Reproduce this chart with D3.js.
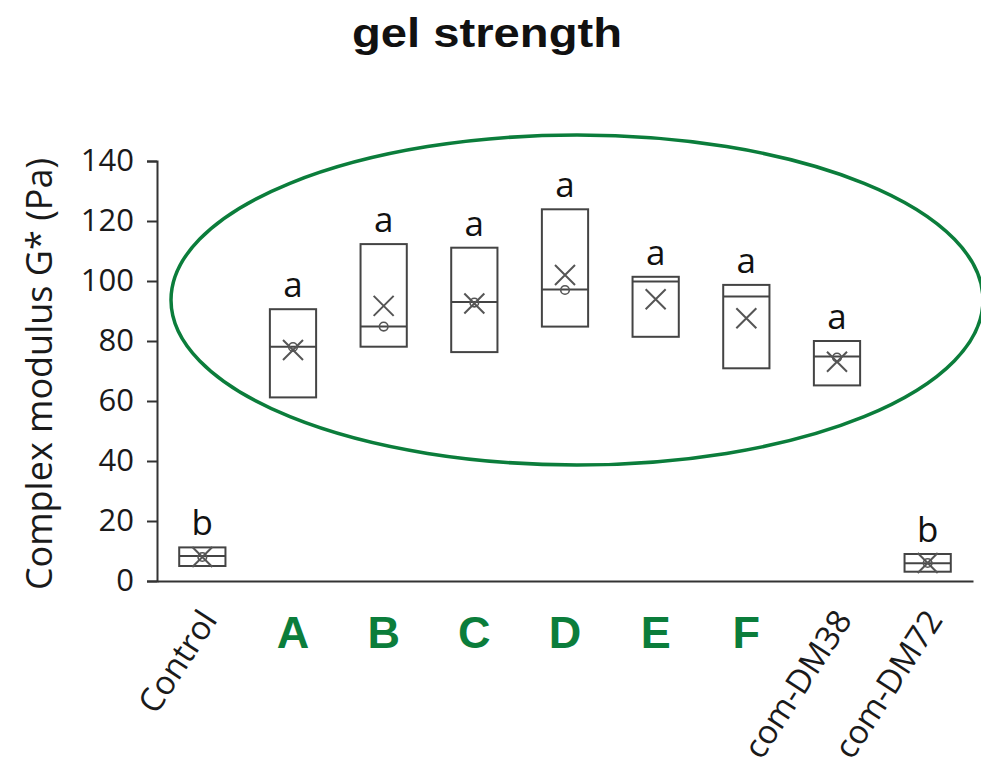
<!DOCTYPE html>
<html>
<head>
<meta charset="utf-8">
<script src="https://cdn.jsdelivr.net/npm/d3@7"></script>
<style>
  html, body { margin: 0; padding: 0; background: #fff; }
  svg { display: block; }
</style>
</head>
<body>
<svg id="chart" width="981" height="769"></svg>
<script>
// Sample groups along the x axis
const categories = ["Control", "A", "B", "C", "D", "E", "F", "com-DM38", "com-DM72"];
// Which groups get the bold green label
const highlighted = [false, true, true, true, true, true, true, false, false];
// Box statistics of the complex modulus G* (Pa)
const q1Values     = [5.0, 61.2, 78.1, 76.3, 84.8, 81.4, 70.9, 65.2, 3.1];
const medianValues = [8.3, 78.1, 84.8, 93.0, 97.2, 99.8, 94.8, 74.8, 5.9];
const q3Values     = [11.2, 90.6, 112.3, 111.1, 123.9, 101.4, 98.7, 80.0, 9.0];
const meanValues   = [8.0, 77.0, 91.7, 92.5, 102.0, 93.9, 87.6, 73.1, 6.0];
// Inner data point shown as a small circle (null = none drawn)
const pointValues  = [8.0, 78.0, 84.8, 92.8, 97.0, null, null, 74.5, 6.0];
// Significance letters
const groupLetters = ["b", "a", "a", "a", "a", "a", "a", "a", "b"];
// Y axis ticks
const yTicks = [0, 20, 40, 60, 80, 100, 120, 140];

const svg = d3.select("#chart");
const green = "#0b7d3b";
const textFont = "Open Sans, sans-serif";

const x = d3.scaleBand().domain(categories).range([157, 973]).padding(0);
const y = d3.scaleLinear().domain([0, 140]).range([581, 161]);
const boxW = x.bandwidth() * 0.51;
const cx = c => x(c) + x.bandwidth() / 2;

// Title
svg.append("text")
  .attr("x", 487).attr("y", 47)
  .attr("text-anchor", "middle")
  .attr("font-family", "Liberation Sans, Arial, sans-serif")
  .attr("font-weight", "bold")
  .attr("font-size", 40)
  .attr("textLength", 270)
  .attr("lengthAdjust", "spacingAndGlyphs")
  .attr("fill", "#111")
  .text("gel strength");

// Y axis
const yAxis = svg.append("g")
  .attr("transform", "translate(157,0)")
  .call(d3.axisLeft(y).tickValues(yTicks).tickSize(10).tickPadding(13));
yAxis.select(".domain").attr("stroke", "#333").attr("stroke-width", 2);
yAxis.selectAll(".tick line").attr("stroke", "#333").attr("stroke-width", 2);
yAxis.selectAll(".tick text")
  .attr("font-family", textFont)
  .attr("font-size", 31)
  .attr("fill", "#1a1a1a");

// X axis (baseline only, labels drawn separately)
const xAxis = svg.append("g")
  .attr("transform", "translate(0,581)")
  .call(d3.axisBottom(x).tickSize(0).tickFormat(""));
xAxis.select(".domain").attr("stroke", "#333").attr("stroke-width", 2);

// Y axis title
svg.append("text")
  .attr("transform", "translate(52,374) rotate(-90)")
  .attr("text-anchor", "middle")
  .attr("font-family", textFont)
  .attr("font-size", 36)
  .attr("fill", "#1a1a1a")
  .text("Complex modulus G* (Pa)");

// Category labels
categories.forEach((c, i) => {
  if (highlighted[i]) {
    svg.append("text")
      .attr("x", cx(c)).attr("y", 648)
      .attr("text-anchor", "middle")
      .attr("font-family", "Liberation Sans, Arial, sans-serif")
      .attr("font-weight", "bold")
      .attr("font-size", 45)
      .attr("fill", green)
      .text(c);
  } else {
    svg.append("text")
      .attr("transform", `translate(${cx(c) + 16},620) rotate(-57)`)
      .attr("text-anchor", "end")
      .attr("font-family", textFont)
      .attr("font-size", 33)
      .attr("fill", "#1a1a1a")
      .text(c);
  }
});

// Boxes
const boxes = svg.append("g");
categories.forEach((c, i) => {
  const g = boxes.append("g");
  const xm = cx(c);
  g.append("rect")
    .attr("x", xm - boxW / 2).attr("width", boxW)
    .attr("y", y(q3Values[i])).attr("height", y(q1Values[i]) - y(q3Values[i]))
    .attr("fill", "none").attr("stroke", "#444").attr("stroke-width", 2);
  g.append("line")
    .attr("x1", xm - boxW / 2).attr("x2", xm + boxW / 2)
    .attr("y1", y(medianValues[i])).attr("y2", y(medianValues[i]))
    .attr("stroke", "#444").attr("stroke-width", 2);
  if (pointValues[i] !== null) {
    g.append("circle")
      .attr("cx", xm).attr("cy", y(pointValues[i])).attr("r", 4.3)
      .attr("fill", "none").attr("stroke", "#555").attr("stroke-width", 1.6);
  }
  const s = 10;
  const my = y(meanValues[i]);
  g.append("path")
    .attr("d", `M${xm - s},${my - s}L${xm + s},${my + s}M${xm - s},${my + s}L${xm + s},${my - s}`)
    .attr("stroke", "#555").attr("stroke-width", 2).attr("fill", "none");
  g.append("text")
    .attr("x", xm).attr("y", y(q3Values[i]) - 12)
    .attr("text-anchor", "middle")
    .attr("font-family", textFont)
    .attr("font-size", 35)
    .attr("fill", "#111")
    .text(groupLetters[i]);
});

// Highlight ring around the treated groups
svg.append("ellipse")
  .attr("cx", 577).attr("cy", 300).attr("rx", 406).attr("ry", 165)
  .attr("fill", "none").attr("stroke", green).attr("stroke-width", 3.5);
</script>
</body>
</html>
